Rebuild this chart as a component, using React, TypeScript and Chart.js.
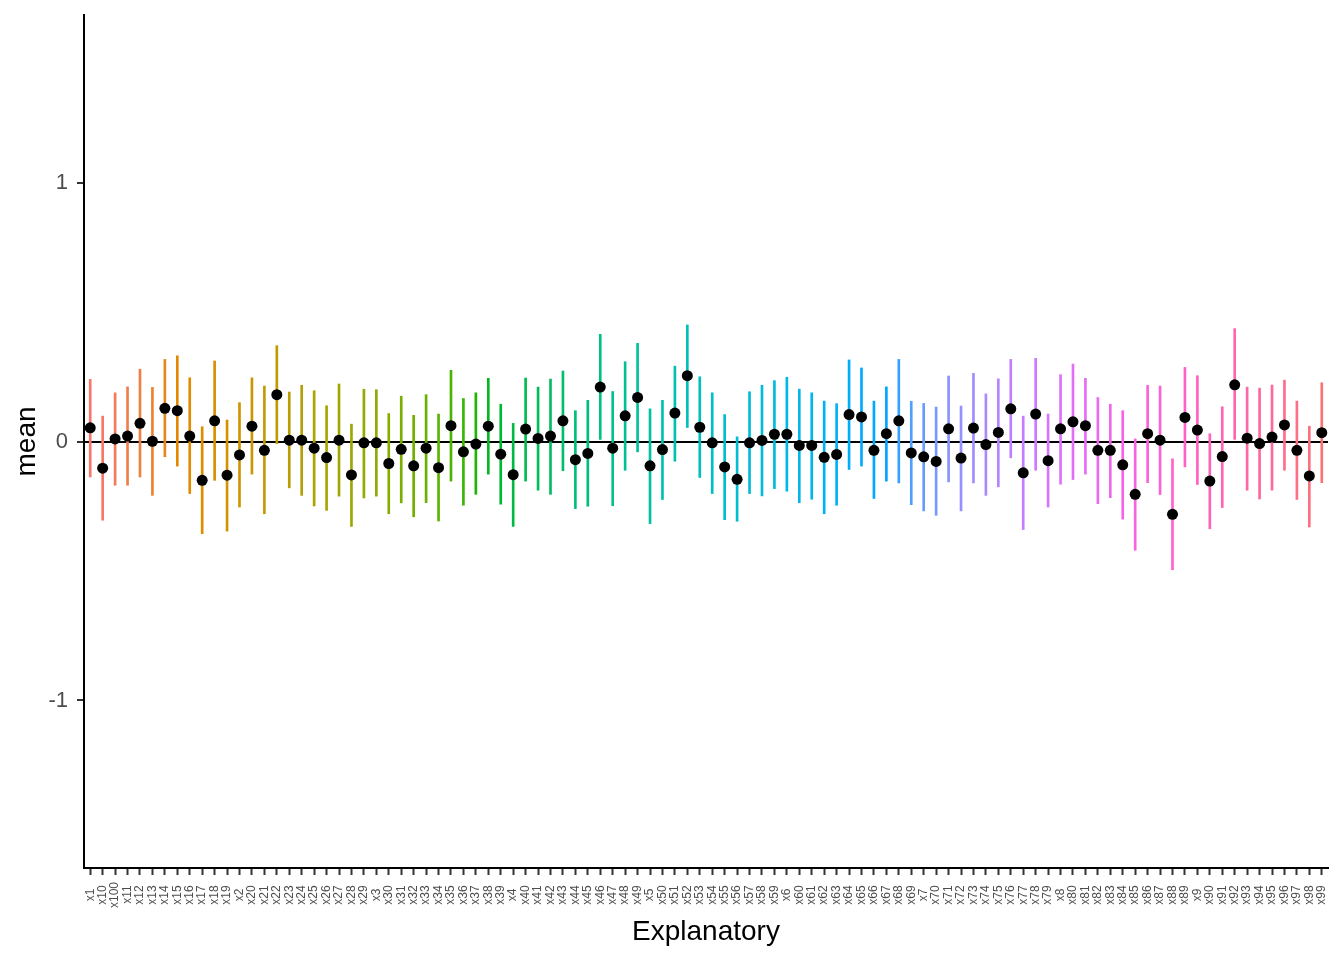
import React, { useEffect, useRef } from "react";
import { Chart, registerables } from "chart.js";

Chart.register(...registerables);

const categories = [
  "x1", "x10", "x100", "x11", "x12", "x13", "x14", "x15", "x16", "x17",
  "x18", "x19", "x2", "x20", "x21", "x22", "x23", "x24", "x25", "x26",
  "x27", "x28", "x29", "x3", "x30", "x31", "x32", "x33", "x34", "x35",
  "x36", "x37", "x38", "x39", "x4", "x40", "x41", "x42", "x43", "x44",
  "x45", "x46", "x47", "x48", "x49", "x5", "x50", "x51", "x52", "x53",
  "x54", "x55", "x56", "x57", "x58", "x59", "x6", "x60", "x61", "x62",
  "x63", "x64", "x65", "x66", "x67", "x68", "x69", "x7", "x70", "x71",
  "x72", "x73", "x74", "x75", "x76", "x77", "x78", "x79", "x8", "x80",
  "x81", "x82", "x83", "x84", "x85", "x86", "x87", "x88", "x89", "x9",
  "x90", "x91", "x92", "x93", "x94", "x95", "x96", "x97", "x98", "x99",
];

const means = [
  0.053, -0.103, 0.010, 0.021, 0.070, 0.001, 0.128, 0.119, 0.021, -0.150,
  0.080, -0.130, -0.052, 0.059, -0.034, 0.181, 0.005, 0.005, -0.026, -0.062,
  0.005, -0.129, -0.005, -0.005, -0.085, -0.030, -0.094, -0.026, -0.101, 0.061,
  -0.040, -0.010, 0.059, -0.049, -0.128, 0.048, 0.012, 0.021, 0.080, -0.070,
  -0.046, 0.210, -0.026, 0.099, 0.170, -0.094, -0.031, 0.110, 0.254, 0.055,
  -0.005, -0.098, -0.146, -0.005, 0.004, 0.028, 0.028, -0.015, -0.015, -0.061,
  -0.050, 0.104, 0.095, -0.034, 0.030, 0.080, -0.044, -0.059, -0.077, 0.049,
  -0.064, 0.052, -0.012, 0.035, 0.126, -0.121, 0.106, -0.074, 0.049, 0.076,
  0.061, -0.034, -0.034, -0.090, -0.204, 0.030, 0.005, -0.281, 0.093, 0.044,
  -0.153, -0.058, 0.219, 0.013, -0.008, 0.017, 0.064, -0.034, -0.133, 0.034,
];

const lowers = [
  -0.137, -0.304, -0.169, -0.169, -0.137, -0.208, -0.059, -0.095, -0.201, -0.356,
  -0.150, -0.346, -0.253, -0.126, -0.279, -0.008, -0.179, -0.208, -0.249, -0.266,
  -0.211, -0.328, -0.218, -0.211, -0.279, -0.237, -0.291, -0.236, -0.307, -0.153,
  -0.246, -0.204, -0.126, -0.242, -0.328, -0.153, -0.188, -0.204, -0.113, -0.259,
  -0.250, 0.008, -0.248, -0.111, -0.040, -0.317, -0.224, -0.076, 0.054, -0.139,
  -0.201, -0.302, -0.308, -0.201, -0.210, -0.182, -0.192, -0.236, -0.223, -0.279,
  -0.246, -0.108, -0.095, -0.220, -0.153, -0.160, -0.244, -0.268, -0.285, -0.156,
  -0.268, -0.160, -0.208, -0.175, -0.063, -0.340, -0.111, -0.253, -0.165, -0.147,
  -0.126, -0.240, -0.217, -0.300, -0.420, -0.159, -0.205, -0.495, -0.098, -0.166,
  -0.337, -0.255, 0.008, -0.188, -0.222, -0.188, -0.111, -0.224, -0.330, -0.159,
];

const uppers = [
  0.240, 0.098, 0.188, 0.211, 0.279, 0.209, 0.317, 0.331, 0.246, 0.057,
  0.311, 0.083, 0.150, 0.246, 0.214, 0.370, 0.191, 0.217, 0.196, 0.138,
  0.222, 0.067, 0.202, 0.200, 0.108, 0.175, 0.101, 0.181, 0.106, 0.275,
  0.166, 0.188, 0.244, 0.144, 0.070, 0.245, 0.210, 0.241, 0.272, 0.119,
  0.159, 0.414, 0.193, 0.308, 0.379, 0.126, 0.159, 0.291, 0.450, 0.250,
  0.188, 0.104, 0.018, 0.192, 0.217, 0.235, 0.248, 0.202, 0.188, 0.156,
  0.146, 0.315, 0.284, 0.156, 0.211, 0.317, 0.155, 0.147, 0.133, 0.253,
  0.137, 0.263, 0.184, 0.242, 0.317, 0.098, 0.321, 0.106, 0.258, 0.299,
  0.244, 0.170, 0.144, 0.119, 0.010, 0.217, 0.214, -0.067, 0.286, 0.254,
  0.030, 0.134, 0.436, 0.210, 0.206, 0.218, 0.237, 0.156, 0.059, 0.227,
];

const yTickValues = [-1, 0, 1];
const yMin = -1.647;
const yMax = 1.647;

const FONT = "'Liberation Sans', Arial, Helvetica, sans-serif";

// ggplot2-style hue palette colour (HCL, c = 100, l = 65)
function hclColor(h: number, c = 100, l = 65): string {
  const hr = (h * Math.PI) / 180;
  const U = c * Math.cos(hr);
  const V = c * Math.sin(hr);
  const Xn = 95.047, Yn = 100.0, Zn = 108.883;
  const denom = Xn + 15 * Yn + 3 * Zn;
  const un = (4 * Xn) / denom;
  const vn = (9 * Yn) / denom;
  const Y = l > 7.999592 ? Yn * Math.pow((l + 16) / 116, 3) : (Yn * l) / 903.3;
  const up = U / (13 * l) + un;
  const vp = V / (13 * l) + vn;
  const X = (9 * Y * up) / (4 * vp);
  const Z = -X / 3 - 5 * Y + (3 * Y) / vp;
  const x = X / 100, y = Y / 100, z = Z / 100;
  const lin = [
    3.240479 * x - 1.53715 * y - 0.498535 * z,
    -0.969256 * x + 1.875992 * y + 0.041556 * z,
    0.055648 * x - 0.204043 * y + 1.057311 * z,
  ];
  const rgb = lin.map((v) => {
    const g = v <= 0.00304 ? 12.92 * v : 1.055 * Math.pow(v, 1 / 2.4) - 0.055;
    return Math.round(Math.max(0, Math.min(1, g)) * 255);
  });
  return `rgb(${rgb[0]}, ${rgb[1]}, ${rgb[2]})`;
}

export default function App() {
  const canvasRef = useRef<HTMLCanvasElement | null>(null);

  useEffect(() => {
    document.body.style.margin = "0";
    const canvas = canvasRef.current;
    if (!canvas) return;
    const n = categories.length;
    const colors = categories.map((_, i) => hclColor(15 + (360 * i) / n));
    const ranges = categories.map((_, i) => [lowers[i], uppers[i]]);

    const chart = new Chart(canvas, {
      type: "bar",
      data: {
        labels: categories,
        datasets: [
          {
            type: "line",
            label: "mean",
            data: means,
            showLine: false,
            pointRadius: 5.5,
            pointHoverRadius: 5.5,
            pointBackgroundColor: "#000000",
            pointBorderWidth: 0,
            borderColor: "#000000",
            order: 0,
          } as any,
          {
            type: "bar",
            label: "range",
            data: ranges as any,
            backgroundColor: colors,
            borderWidth: 0,
            borderSkipped: false,
            barThickness: 2,
            order: 1,
          } as any,
        ],
      },
      options: {
        animation: false,
        responsive: false,
        events: [],
        layout: { padding: { top: 15, right: 16, bottom: 0, left: 0 } },
        plugins: {
          legend: { display: false },
          tooltip: { enabled: false },
        },
        scales: {
          x: {
            type: "category",
            offset: true,
            grid: {
              display: true,
              drawOnChartArea: false,
              drawTicks: true,
              offset: false,
              tickLength: 7,
              tickWidth: 2,
              tickColor: "#333333",
              color: "#333333",
            },
            border: { display: true, color: "#000000", width: 2 },
            ticks: {
              autoSkip: false,
              maxRotation: 90,
              minRotation: 90,
              padding: 7,
              color: "#4D4D4D",
              font: { family: FONT, size: 12 },
              callback: (_v: any, index: number) => {
                const s = categories[index];
                return s + " ".repeat(Math.max(0, 4 - s.length));
              },
            },
            title: {
              display: true,
              text: "Explanatory",
              color: "#000000",
              font: { family: FONT, size: 28 },
              padding: { top: 0, bottom: 11 },
            },
            afterFit: (scale: any) => {
              scale.height = 92;
              scale.paddingLeft = 0;
              scale.paddingRight = 0;
            },
          },
          y: {
            type: "linear",
            min: yMin,
            max: yMax,
            z: 1,
            grid: {
              display: true,
              drawOnChartArea: true,
              drawTicks: true,
              tickLength: 7,
              tickWidth: 2,
              tickColor: "#333333",
              lineWidth: 2,
              color: (ctx: any) =>
                ctx.tick && ctx.tick.value === 0 ? "#000000" : "rgba(0,0,0,0)",
            },
            border: { display: true, color: "#000000", width: 2 },
            afterBuildTicks: (scale: any) => {
              scale.ticks = yTickValues.map((v) => ({ value: v }));
            },
            ticks: {
              padding: 9,
              color: "#4D4D4D",
              font: { family: FONT, size: 22 },
              callback: (v: any) => String(v),
            },
            title: {
              display: true,
              text: "mean",
              color: "#000000",
              font: { family: FONT, size: 28 },
              padding: { top: 10, bottom: 0 },
            },
            afterFit: (scale: any) => {
              scale.width = 84;
              scale.paddingTop = 0;
              scale.paddingBottom = 0;
            },
          },
        },
      } as any,
    });

    return () => {
      chart.destroy();
    };
  }, []);

  return (
    <div style={{ width: 1344, height: 960, background: "#ffffff" }}>
      <canvas ref={canvasRef} width={1344} height={960} style={{ display: "block" }} />
    </div>
  );
}
